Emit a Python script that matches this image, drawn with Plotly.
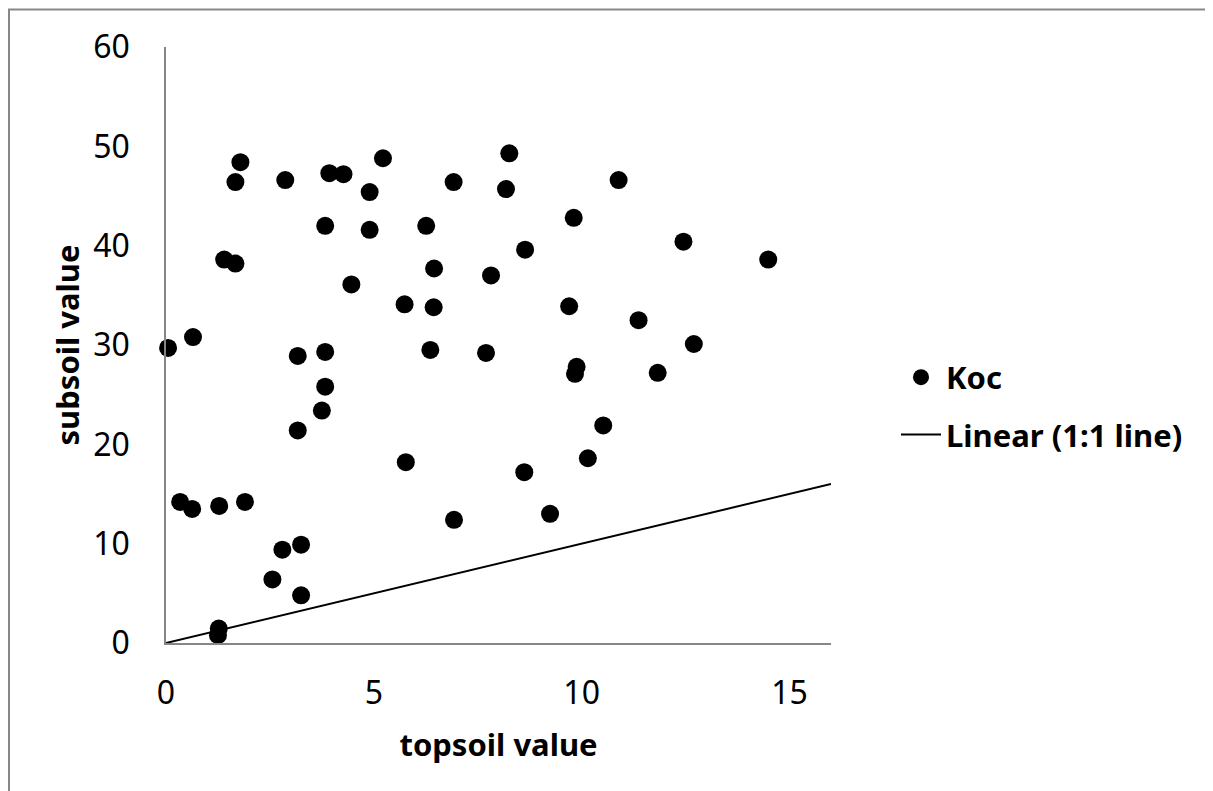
import plotly.graph_objects as go

# Koc data: topsoil value (x) vs subsoil value (y)
topsoil = [0.05, 0.34, 0.63, 0.65, 1.28, 1.27, 1.25, 1.40, 1.67, 1.67, 1.79, 1.90,
           2.56, 2.80, 2.87, 3.17, 3.17, 3.25, 3.25, 3.75, 3.83, 3.83, 3.83, 3.93,
           4.27, 4.46, 4.90, 4.90, 5.22, 5.74, 5.77, 6.26, 6.36, 6.44, 6.45, 6.92,
           6.93, 7.70, 7.82, 8.18, 8.26, 8.62, 8.64, 9.24, 9.70, 9.81, 9.84, 9.88,
           10.15, 10.52, 10.89, 11.37, 11.83, 12.45, 12.70, 14.49]
subsoil = [29.7, 14.2, 13.5, 30.8, 13.8, 1.45, 0.78, 38.6, 38.2, 46.4, 48.4, 14.2,
           6.4, 9.4, 46.6, 28.9, 21.4, 9.9, 4.8, 23.4, 25.8, 29.3, 42.0, 47.3,
           47.2, 36.1, 45.4, 41.6, 48.8, 34.1, 18.2, 42.0, 29.5, 33.8, 37.7, 46.4,
           12.4, 29.2, 37.0, 45.7, 49.3, 17.2, 39.6, 13.0, 33.9, 42.8, 27.1, 27.8,
           18.6, 21.9, 46.6, 32.5, 27.2, 40.4, 30.1, 38.6]

# 1:1 reference line
line_x = [0, 16]
line_y = [0, 16]

x_range = [0, 16]
y_range = [0, 60]
x_ticks = [0, 5, 10, 15]
y_ticks = [0, 10, 20, 30, 40, 50, 60]

FONT = "Noto Sans, Open Sans, sans-serif"
AXIS_GRAY = "#868686"

fig = go.Figure()
fig.add_trace(go.Scatter(
    x=topsoil, y=subsoil, mode="markers", name="<b>Koc</b>",
    marker=dict(size=18, color="black", line=dict(width=0)),
    cliponaxis=False, legendgroup="a",
))
fig.add_trace(go.Scatter(
    x=line_x, y=line_y, mode="lines", name="<b>Linear (1:1 line)</b>",
    line=dict(color="black", width=2), legendgroup="b",
))

W, H = 1213, 791
OFF = 8  # page body margin
L, T = 158, 39
pw, ph = 665, 596
R, B = W - L - pw, H - T - ph

def px_x(p):
    return (p - OFF - L) / pw

def px_y(p):
    return (T + ph - (p - OFF)) / ph

fig.update_layout(
    width=W, height=H,
    margin=dict(l=L, r=R, t=T, b=B, autoexpand=False),
    paper_bgcolor="white", plot_bgcolor="white",
    font=dict(family=FONT, size=30, color="black"),
    showlegend=True,
    legend=dict(x=px_x(896), y=px_y(406), xanchor="left", yanchor="middle",
                font=dict(size=31, family=FONT, color="black"),
                tracegroupgap=14, bgcolor="rgba(0,0,0,0)", itemwidth=40),
    xaxis=dict(range=x_range, tickvals=x_ticks, showline=True, linecolor=AXIS_GRAY,
               linewidth=1.5, showgrid=False, zeroline=False, automargin=False,
               ticks="outside", ticklen=21, tickcolor="rgba(0,0,0,0)",
               tickfont=dict(size=32, family=FONT),
               title=dict(text="<b>topsoil value</b>", font=dict(size=31, family=FONT),
                          standoff=22)),
    yaxis=dict(range=y_range, tickvals=y_ticks, showline=True, linecolor=AXIS_GRAY,
               linewidth=1.5, showgrid=False, zeroline=False, automargin=False,
               ticks="outside", ticklen=28, tickcolor="rgba(0,0,0,0)",
               tickfont=dict(size=32, family=FONT),
               title=dict(text="<b>subsoil value</b>", font=dict(size=31, family=FONT),
                          standoff=4)),
    shapes=[dict(type="rect", xref="paper", yref="paper",
                 x0=px_x(OFF + 1), x1=px_x(1240), y0=px_y(820), y1=px_y(9.5),
                 line=dict(color="#878787", width=2), fillcolor="rgba(0,0,0,0)",
                 layer="below")],
)

fig.write_html("out.html")
